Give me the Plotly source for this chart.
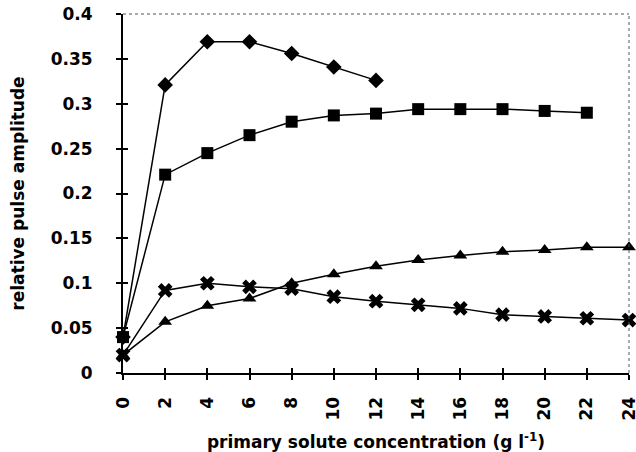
import plotly.graph_objects as go

x_vals = [0, 2, 4, 6, 8, 10, 12, 14, 16, 18, 20, 22, 24]

diamond_x = [0, 2, 4, 6, 8, 10, 12]
diamond_y = [0.040, 0.321, 0.369, 0.369, 0.356, 0.341, 0.326]

square_x = [0, 2, 4, 6, 8, 10, 12, 14, 16, 18, 20, 22]
square_y = [0.040, 0.221, 0.245, 0.265, 0.280, 0.287, 0.289, 0.294, 0.294, 0.294, 0.292, 0.290]

triangle_x = x_vals
triangle_y = [0.020, 0.057, 0.075, 0.083, 0.100, 0.110, 0.119, 0.126, 0.131, 0.135, 0.137, 0.140, 0.140]

cross_x = x_vals
cross_y = [0.020, 0.092, 0.100, 0.096, 0.094, 0.085, 0.080, 0.076, 0.072, 0.065, 0.063, 0.061, 0.059]

x_ticks = list(range(0, 25, 2))
y_ticks = [0, 0.05, 0.1, 0.15, 0.2, 0.25, 0.3, 0.35, 0.4]
y_ticktext = ["0", "0.05", "0.1", "0.15", "0.2", "0.25", "0.3", "0.35", "0.4"]

FONT = "DejaVu Sans"
line = dict(color="black", width=1.5)

fig = go.Figure()
fig.add_trace(go.Scatter(x=diamond_x, y=diamond_y, mode="lines+markers", line=line, cliponaxis=False,
                         marker=dict(symbol="diamond", size=12, color="black")))
fig.add_trace(go.Scatter(x=square_x, y=square_y, mode="lines+markers", line=line, cliponaxis=False,
                         marker=dict(symbol="square", size=12, color="black")))
fig.add_trace(go.Scatter(x=triangle_x, y=triangle_y, mode="lines+markers", line=line, cliponaxis=False,
                         marker=dict(symbol="triangle-up", size=12, color="black")))
fig.add_trace(go.Scatter(x=cross_x, y=cross_y, mode="lines+markers", line=line, cliponaxis=False,
                         marker=dict(symbol="x", size=13, color="black")))

tickfont = dict(family=FONT, size=17, color="black", weight="bold")
titlefont = dict(family=FONT, size=17, color="black", weight="bold")

fig.update_layout(
    width=636, height=452,
    margin=dict(l=123, r=7, t=14, b=79, autoexpand=False),
    paper_bgcolor="white", plot_bgcolor="white",
    showlegend=False,
    xaxis=dict(range=[0, 24], tickvals=x_ticks, ticktext=[str(v) for v in x_ticks],
               tickangle=-90, ticks="outside", ticklen=5, tickwidth=1.5, tickcolor="black",
               showline=True, linecolor="black", linewidth=2, showgrid=False, zeroline=False,
               tickfont=tickfont, ticklabelstandoff=10, automargin=False, ticklabeloverflow="allow",
               title=dict(text="primary solute concentration (g l<sup>-1</sup>)", font=titlefont, standoff=17)),
    yaxis=dict(range=[0, 0.4], tickvals=y_ticks, ticktext=y_ticktext,
               ticks="outside", ticklen=5, tickwidth=1.5, tickcolor="black",
               showline=True, linecolor="black", linewidth=2, showgrid=False, zeroline=False,
               tickfont=tickfont, ticklabelstandoff=20, automargin=False, ticklabeloverflow="allow",
               title=dict(text="relative pulse amplitude", font=titlefont, standoff=22)),
    xaxis2=dict(overlaying="x", range=[0, 24], tickvals=x_ticks, ticks="inside", ticklen=5,
                tickwidth=1.5, tickcolor="black", showticklabels=False, showgrid=False,
                zeroline=False, showline=False, anchor="y", automargin=False),
    yaxis2=dict(overlaying="y", range=[0, 0.4], tickvals=y_ticks, ticks="inside", ticklen=5,
                tickwidth=1.5, tickcolor="black", showticklabels=False, showgrid=False,
                zeroline=False, showline=False, anchor="x", side="left", automargin=False),
    shapes=[
        dict(type="line", xref="paper", yref="paper", x0=0, x1=1, y0=1, y1=1,
             line=dict(color="#555555", width=1, dash="dot")),
        dict(type="line", xref="paper", yref="paper", x0=1, x1=1, y0=0, y1=1,
             line=dict(color="#555555", width=1, dash="dot")),
    ],
)
fig.add_trace(go.Scatter(x=[None], y=[None], xaxis="x2", yaxis="y2", showlegend=False, hoverinfo="skip"))

fig.write_html("out.html", config={"displayModeBar": False},
               post_script="document.body.style.margin='0';document.body.style.overflow='hidden';")
